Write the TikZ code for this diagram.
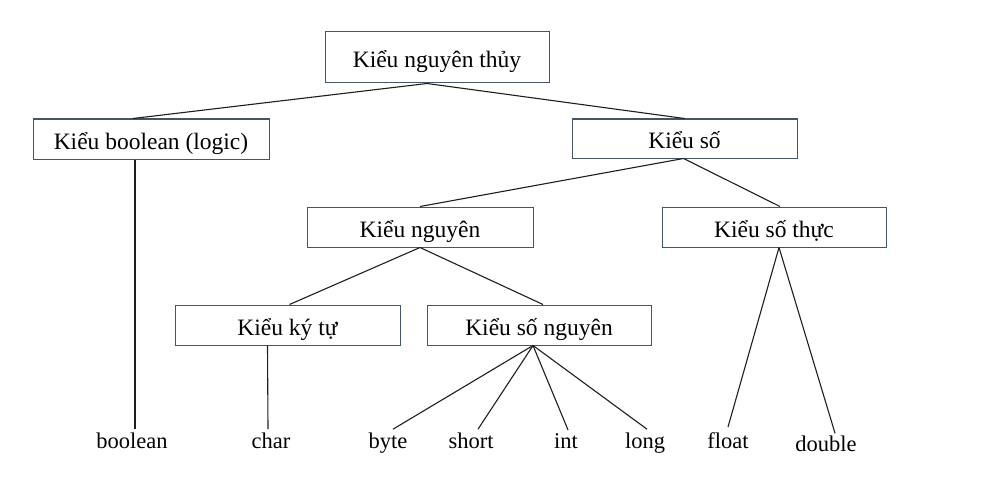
\documentclass[tikz,border=0pt]{standalone}
\usepackage{fontspec}
\setmainfont{Liberation Serif}
\begin{document}
\begin{tikzpicture}[x=1pt,y=-1pt,
  box/.style={draw=boxc,line width=1pt,minimum width=224pt,minimum height=40pt,inner sep=0pt,text height=20pt,text depth=0pt,font=\fontsize{23.5}{28}\selectfont},
  leaf/.style={inner sep=0pt,anchor=base,font=\fontsize{22.5}{27}\selectfont},
  conn/.style={draw=linec,line width=1.1pt}]
\definecolor{boxc}{HTML}{44546A}
\definecolor{linec}{HTML}{1E1E1E}
\useasboundingbox (0,0) rectangle (992,500);
\node[box,minimum height=51pt] (top) at (437,57.5) {Kiểu nguyên thủy};
\node[box,minimum width=236pt] (bool) at (151,139) {Kiểu boolean (logic)};
\node[box,minimum width=225pt,minimum height=39pt] (so) at (684.5,138.5) {Kiểu số};
\node[box,minimum width=226pt] (nguyen) at (420,227) {Kiểu nguyên};
\node[box] (thuc) at (774,227) {Kiểu số thực};
\node[box,minimum width=225pt] (kytu) at (287.5,325) {Kiểu ký tự};
\node[box] (songuyen) at (539,325) {Kiểu số nguyên};
\node[leaf] (lbool) at (132,448) {boolean};
\node[leaf] (lchar) at (271,448) {char};
\node[leaf] (lbyte) at (388,448) {byte};
\node[leaf] (lshort) at (471,448) {short};
\node[leaf] (lint) at (566,448) {int};
\node[leaf] (llong) at (645,448) {long};
\node[leaf] (lfloat) at (728,448) {float};
\node[leaf] (ldouble) at (826,451) {double};
% connectors
\draw[conn] ([xshift=-10pt]top.south) -- ([xshift=-18pt]bool.north);
\draw[conn] ([xshift=-10pt]top.south) -- (so.north);
\draw[conn] ([xshift=-1pt]so.south) -- (nguyen.north);
\draw[conn] ([xshift=-1pt]so.south) -- ([xshift=6pt]thuc.north);
\draw[conn] ([xshift=-16pt]bool.south) -- ([xshift=3pt,yshift=3pt]lbool.north);
\draw[conn] (nguyen.south) -- ([xshift=2pt]kytu.north);
\draw[conn] (nguyen.south) -- ([xshift=4pt]songuyen.north);
\draw[conn] ([xshift=-20pt]kytu.south) -- ([xshift=-3pt,yshift=3pt]lchar.north);
\draw[conn] ([xshift=-6pt]songuyen.south) -- ([xshift=5pt,yshift=3pt]lbyte.north);
\draw[conn] ([xshift=-6pt]songuyen.south) -- ([xshift=7pt,yshift=3pt]lshort.north);
\draw[conn] ([xshift=-6pt]songuyen.south) -- ([xshift=2pt,yshift=3pt]lint.north);
\draw[conn] ([xshift=-6pt]songuyen.south) -- ([xshift=2pt,yshift=3pt]llong.north);
\draw[conn] ([xshift=5pt]thuc.south) -- ([xshift=0pt,yshift=5pt]lfloat.north);
\draw[conn] ([xshift=5pt]thuc.south) -- ([xshift=9pt,yshift=2pt]ldouble.north);
\end{tikzpicture}
\end{document}
